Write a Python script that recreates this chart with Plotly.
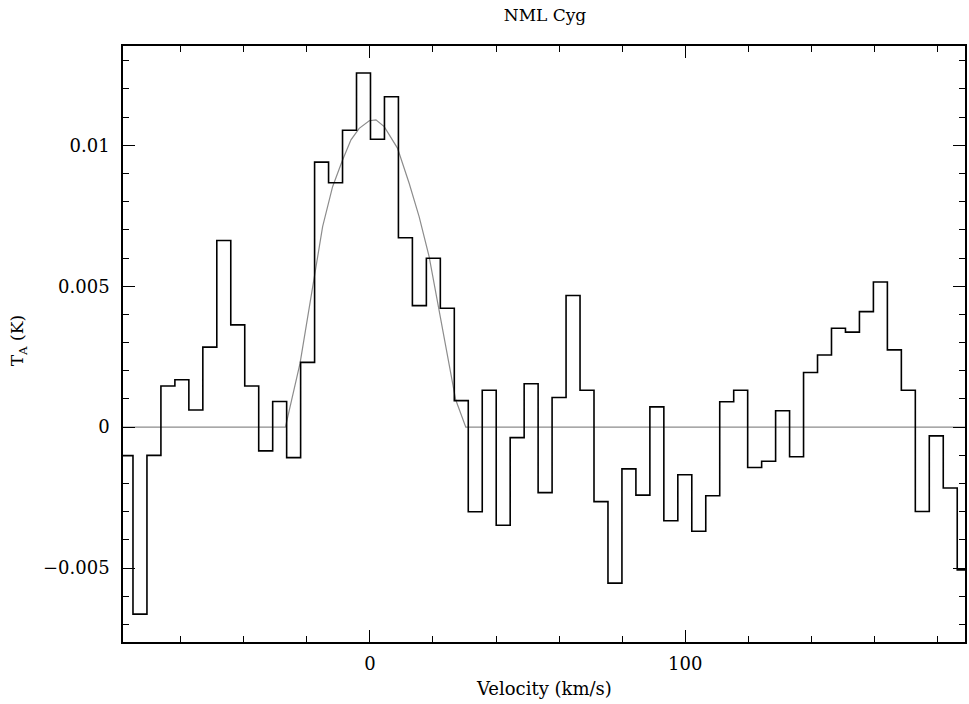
import plotly.graph_objects as go

title_text = "NML Cyg"
x_label = "Velocity (km/s)"
y_label = "T<sub>A</sub> (K)"

# channel grid
v_first_center = -77.35
channel_width = 4.43

# antenna temperature per channel (K)
ta_values = [
    -0.00101, -0.00663, -0.00100, 0.00146, 0.00168, 0.00061, 0.00284, 0.00662,
    0.00363, 0.00146, -0.00084, 0.00091, -0.00108, 0.00230, 0.00940, 0.00867,
    0.01053, 0.01256, 0.01021, 0.01172, 0.00672, 0.00431, 0.00599, 0.00422,
    0.00094, -0.00300, 0.00131, -0.00348, -0.00037, 0.00154, -0.00232, 0.00105,
    0.00467, 0.00131, -0.00264, -0.00553, -0.00148, -0.00241, 0.00072, -0.00332,
    -0.00169, -0.00369, -0.00243, 0.00090, 0.00131, -0.00143, -0.00121, 0.00058,
    -0.00105, 0.00194, 0.00256, 0.00351, 0.00337, 0.00410, 0.00515, 0.00274,
    0.00131, -0.00299, -0.00031, -0.00216, -0.00506,
]

# fitted profile
fit_v = [-78.3, -26.8, -22.15, -17.85, -15.0, -11.84, -8.86, -6.01, -3.39, -0.22,
         1.9, 4.53, 8.73, 12.44, 15.6, 18.77, 21.93, 25.1, 27.2, 30.4, 188.7]
fit_t = [0.0, 0.0, 0.00227, 0.00522, 0.00711, 0.00853, 0.00942, 0.01019, 0.0106, 0.01087,
         0.0109, 0.01066, 0.0099, 0.00865, 0.00747, 0.00605, 0.00416, 0.00215, 0.00097, 0.0, 0.0]

x_range = [-78.3, 188.7]
y_range = [-0.00762, 0.01352]

n = len(ta_values)
edges = [v_first_center - channel_width / 2 + i * channel_width for i in range(n + 1)]
step_y = ta_values + [ta_values[-1]]

FONT = "DejaVu Serif"

fig = go.Figure()
fig.add_trace(go.Scatter(x=fit_v, y=fit_t, mode="lines",
                         line=dict(color="#8c8c8c", width=1.2), hoverinfo="skip"))
fig.add_trace(go.Scatter(x=edges, y=step_y, mode="lines", line_shape="hv",
                         line=dict(color="black", width=1.6)))

axis_common = dict(
    showgrid=False, zeroline=False, showline=True, linecolor="black", linewidth=1.5,
    mirror="allticks", ticks="inside", tickcolor="black", tickwidth=1.3,
    tickfont=dict(family=FONT, size=18, color="black"),
)

fig.update_xaxes(range=x_range, tick0=0, dtick=100, ticklen=12,
                 minor=dict(dtick=20, tick0=0, ticks="inside", ticklen=6,
                            tickcolor="black", tickwidth=1.2, showgrid=False),
                 ticklabelstandoff=5, **axis_common)
fig.update_yaxes(range=y_range, tick0=0, dtick=0.005, ticklen=12,
                 minor=dict(dtick=0.001, tick0=0, ticks="inside", ticklen=6,
                            tickcolor="black", tickwidth=1.2, showgrid=False),
                 ticklabelstandoff=8, **axis_common)

fig.update_layout(
    width=969, height=704,
    margin=dict(l=123, r=2, t=46, b=62),
    paper_bgcolor="white", plot_bgcolor="white",
    showlegend=False,
    title=dict(text=title_text, x=545 / 969, xref="container", xanchor="center",
               y=1 - 15 / 704, yref="container", yanchor="middle",
               font=dict(family=FONT, size=17, color="black")),
    annotations=[
        dict(text=x_label, xref="paper", yref="paper", x=0.5, y=-(688 - 642) / 596,
             xanchor="center", yanchor="middle", showarrow=False,
             font=dict(family=FONT, size=18, color="black")),
        dict(text=y_label, xref="paper", yref="paper", x=-(123 - 18) / 844, y=(642 - 341) / 596,
             xanchor="center", yanchor="middle", showarrow=False, textangle=-90,
             font=dict(family=FONT, size=17, color="black")),
    ],
)

fig.write_html("out.html", config=dict(displayModeBar=False),
               post_script="document.body.style.margin='0';document.body.style.overflow='hidden';")
